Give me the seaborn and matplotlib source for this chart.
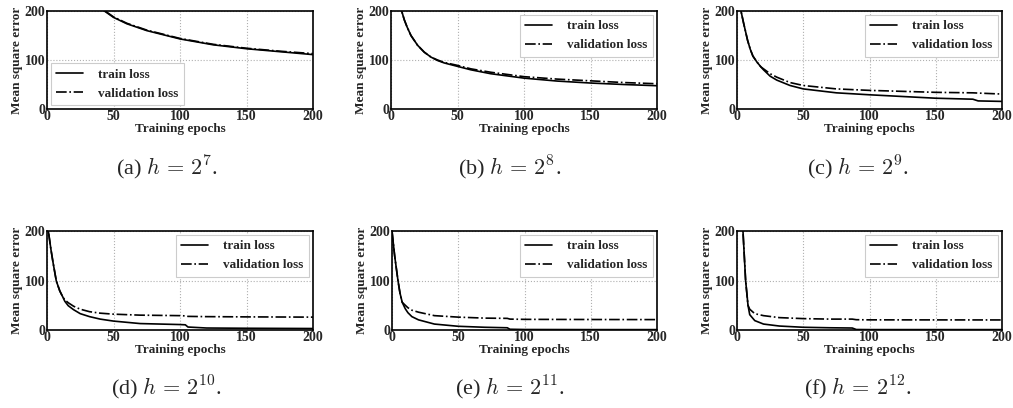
import numpy as np
import pandas as pd
import matplotlib
matplotlib.use("Agg")
import matplotlib.pyplot as plt
import seaborn as sns

sns.set_style("whitegrid")
plt.rcParams['font.family'] = ['Liberation Serif', 'DejaVu Serif']
plt.rcParams['mathtext.fontset'] = 'cm'

# values (epoch, train loss, validation loss)
ep_a = [0, 10, 20, 30, 40, 50, 60, 75, 100, 125, 150, 175, 200]
tr_a = [420, 340, 285, 240, 206, 187, 174, 160, 143, 131, 123, 117, 111]
va_a = [420, 341, 286, 241, 207, 188, 175, 161, 144, 132, 124, 118, 113]

ep_b = [0, 5, 8, 10, 12, 15, 20, 25, 30, 35, 40, 50, 60, 75, 100, 125, 150, 175, 200]
tr_b = [330, 240, 200, 182, 168, 150, 130, 116, 106, 99, 94, 87, 80, 72, 63, 57, 53, 50, 47.5]
va_b = [330, 240, 200, 182, 168, 150, 130, 116, 106, 100, 95, 89, 82, 75, 66, 61, 57.5, 54, 51.5]

ep_c = [0, 3, 5, 8, 10, 12, 15, 18, 20, 25, 30, 40, 50, 75, 100, 150, 178, 182, 200]
tr_c = [260, 200, 175, 140, 122, 108, 96, 86, 80, 67, 59, 48, 41, 33, 29, 22, 20, 16.5, 15.5]
va_c = [260, 200, 175, 140, 122, 108, 96, 86, 82, 72, 65, 54, 48, 41, 38, 34, 33, 32.5, 30.5]

ep_d = [0, 1, 3, 4.5, 7, 9.6, 12, 13.4, 16, 20, 25, 32, 40, 50, 70, 100, 104, 106, 120, 150, 200]
tr_d = [230, 200, 162, 137, 99, 79, 66, 58, 49, 41, 33, 27, 22, 18, 13, 11, 10.5, 6, 4, 3.5, 3]
va_d = [230, 200, 162, 137, 99, 79, 66, 61, 55, 48, 42, 37, 34, 32, 30, 29, 28.5, 27.5, 27, 26.5, 26]

ep_e = [0, 2, 4.5, 6, 7.7, 10, 12, 15, 20, 32, 50, 70, 87, 89, 100, 150, 200]
tr_e = [200, 150, 100, 75, 56, 43, 35, 27, 20.5, 12, 7.5, 5.5, 4.5, 1.5, 1, 0.8, 0.8]
va_e = [200, 150, 100, 75, 56, 50, 45, 40, 36, 29, 26, 24, 23.5, 22, 21.5, 21.2, 21]

ep_f = [0, 4.5, 6.5, 8.3, 9.6, 13.4, 20, 32, 50, 70, 87, 90, 100, 200]
tr_f = [300, 200, 100, 50, 31, 19, 12, 8, 5.5, 4.5, 4, 1, 0.8, 0.8]
va_f = [300, 200, 100, 50, 42, 33, 29, 25, 23, 22, 22, 20.8, 20.5, 20.3]

captions = [r"(a) $h\,=\,2^{7}$.", r"(b) $h\,=\,2^{8}$.", r"(c) $h\,=\,2^{9}$.",
            r"(d) $h\,=\,2^{10}$.", r"(e) $h\,=\,2^{11}$.", r"(f) $h\,=\,2^{12}$."]
legend_loc = ["lower left", "upper right", "upper right",
              "upper right", "upper right", "upper right"]

panels = [(ep_a, tr_a, va_a), (ep_b, tr_b, va_b), (ep_c, tr_c, va_c),
          (ep_d, tr_d, va_d), (ep_e, tr_e, va_e), (ep_f, tr_f, va_f)]

W, H = 1013, 408
fig = plt.figure(figsize=(W / 100, H / 100), dpi=100)

# axes boxes in pixels: left, top, right, bottom
boxes = [(47, 11, 313, 109), (391, 11, 657, 109), (737, 11, 1002, 109),
         (47, 231, 313, 330), (392, 231, 657, 330), (737, 231, 1002, 330)]
cap_x = [167, 510, 858, 167, 510, 858]
cap_y = [168, 168, 168, 388, 388, 388]

for i, (ep, tr, va) in enumerate(panels):
    l, t, r, b = boxes[i]
    ax = fig.add_axes([l / W, 1 - b / H, (r - l) / W, (b - t) / H])
    df = pd.DataFrame({"epoch": ep, "train": tr, "val": va})
    sns.lineplot(data=df, x="epoch", y="train", ax=ax, color="black",
                 lw=1.2, label="train loss")
    sns.lineplot(data=df, x="epoch", y="val", ax=ax, color="black",
                 lw=1.2, ls="-.", label="validation loss")
    ax.set_xlim(0, 200)
    ax.set_ylim(0, 200)
    ax.set_xticks([0, 50, 100, 150, 200])
    ax.set_yticks([0, 100, 200])
    ax.grid(True, color="#b0b0b0", ls=":", lw=0.8)
    for s in ax.spines.values():
        s.set_color("black")
        s.set_linewidth(1.2)
    ax.tick_params(length=0, pad=1, labelsize=10)
    for lab in ax.get_xticklabels() + ax.get_yticklabels():
        lab.set_fontweight("bold")
    ax.set_xlabel("Training epochs", fontsize=9.5, fontweight="bold", labelpad=0)
    ax.set_ylabel("Mean square error", fontsize=9.5, fontweight="bold", labelpad=1)
    leg = ax.legend(loc=legend_loc[i], fancybox=False, framealpha=1,
                    edgecolor="#cccccc", prop={"weight": "bold", "size": 9.5},
                    borderaxespad=0.3, handlelength=2.0, handletextpad=1.2)
    leg.get_frame().set_linewidth(0.8)
    fig.text(cap_x[i] / W, 1 - cap_y[i] / H, captions[i], ha="center",
             va="center", fontsize=16)

fig.savefig("out.png", dpi=100)
